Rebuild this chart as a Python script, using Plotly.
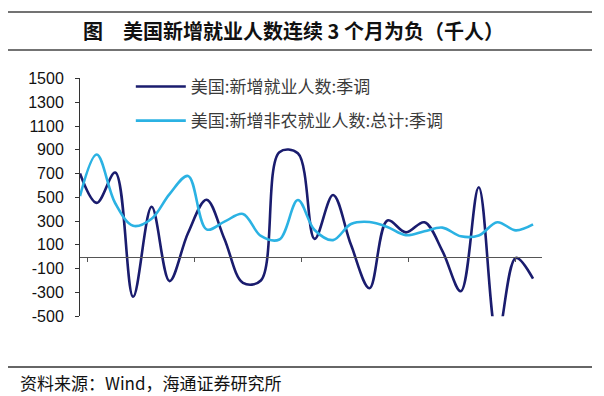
import pandas as pd
import plotly.graph_objects as go

# ---- data (monthly, thousands) ----
MONTHS = pd.date_range("2022-01-31", "2024-02-29", freq="ME")
HOUSEHOLD = [700, 453, 708, -337, 420, -205, 200, 480, 150, -220, -200, 880,
             870, 150, 520, 100, -265, 305, 205, 290, 50, -290, 585, -683,
             -10, -185]
NONFARM = [510, 860, 450, 260, 320, 527, 680, 230, 295, 360, 175, 145,
           477, 225, 140, 275, 292, 250, 181, 214, 245, 172, 178, 290,
           222, 272]
SERIES_NAMES = ["美国:新增就业人数:季调", "美国:新增非农就业人数:总计:季调"]
TICK_LABELS = ["22/02", "22/08", "23/02", "23/08", "24/02"]
Y_TICKS = [-500, -300, -100, 100, 300, 500, 700, 900, 1100, 1300, 1500]
TITLE = "图\u3000美国新增就业人数连续 3 个月为负（千人）"
SOURCE = "资料来源：Wind，海通证券研究所"

DARK = "#1a1c6e"
LIGHT = "#2bb2e3"
NUM_FONT = "Liberation Sans, Arial, sans-serif"
CJK_FONT = "Noto Sans CJK SC, sans-serif"

tick_pos = pd.date_range("2022-02-13", periods=len(TICK_LABELS), freq="179D")
x_range = ["2022-01-31", "2024-03-15"]
y_range = [-500, 1500]

# paper area spans the framing rules; the plot sits inside it
X_DOMAIN = [0.12329, 0.91438]
Y_DOMAIN = [0.142857, 0.810440]
zero_pos = Y_DOMAIN[0] + (0 - y_range[0]) / (y_range[1] - y_range[0]) * (Y_DOMAIN[1] - Y_DOMAIN[0])

fig = go.Figure()
fig.add_trace(go.Scatter(x=MONTHS, y=HOUSEHOLD, name=SERIES_NAMES[0], mode="lines",
                         line=dict(color=DARK, width=2.6, shape="spline", smoothing=1.0),
                         legendgroup="a"))
fig.add_trace(go.Scatter(x=MONTHS, y=NONFARM, name=SERIES_NAMES[1], mode="lines",
                         line=dict(color=LIGHT, width=2.6, shape="spline", smoothing=1.0),
                         legendgroup="b"))

rules = [dict(type="line", xref="paper", yref="paper", layer="above",
              x0=0, x1=1, y0=yy, y1=yy, line=dict(color=c, width=w))
         for yy, c, w in [(0.997, "#444444", 1.5), (0.8901, "#444444", 1.5), (0.0, "#666666", 2)]]

fig.update_layout(
    width=604, height=396,
    margin=dict(l=8, r=12, t=3, b=29),
    paper_bgcolor="white", plot_bgcolor="white",
    showlegend=True,
    legend=dict(x=0.2103, y=0.8371, xanchor="left", yanchor="top",
                bgcolor="rgba(0,0,0,0)", tracegroupgap=9, itemwidth=50,
                font=dict(family=CJK_FONT, size=17, color="#3a3a3a")),
    xaxis=dict(type="date", range=x_range, domain=X_DOMAIN,
               anchor="free", position=zero_pos,
               showline=True, linecolor="#555555", linewidth=1,
               ticks="outside", ticklen=4, tickcolor="#555555",
               tickvals=tick_pos, showticklabels=False,
               showgrid=False, zeroline=False),
    xaxis2=dict(type="date", range=x_range, overlaying="x", matches="x",
                anchor="y", side="bottom",
                tickvals=tick_pos, ticktext=TICK_LABELS, ticks="",
                showline=False, showgrid=False, zeroline=False,
                tickfont=dict(family=NUM_FONT, size=16, color="#111111")),
    yaxis=dict(range=y_range, domain=Y_DOMAIN, anchor="x",
               tickvals=Y_TICKS, ticktext=[str(v) for v in Y_TICKS],
               showline=True, linecolor="#333333", linewidth=1,
               ticks="outside", ticklen=4, tickcolor="#333333",
               ticklabelstandoff=8,
               showgrid=False, zeroline=False,
               tickfont=dict(family=NUM_FONT, size=16, color="#111111")),
    shapes=rules,
)

# title and source text
fig.add_annotation(text=TITLE, xref="paper", yref="paper", x=0.4896, y=0.9464,
                   xanchor="center", yanchor="middle", showarrow=False,
                   font=dict(family=CJK_FONT, size=20, color="#111111", weight="bold"))
fig.add_annotation(text=SOURCE, xref="paper", yref="paper", x=0.0173, y=-0.044,
                   xanchor="left", yanchor="middle", showarrow=False,
                   font=dict(family=CJK_FONT, size=17, color="#111111"))

fig.write_html("out.html", config={"displayModeBar": False},
               post_script="document.body.style.margin='0';")
